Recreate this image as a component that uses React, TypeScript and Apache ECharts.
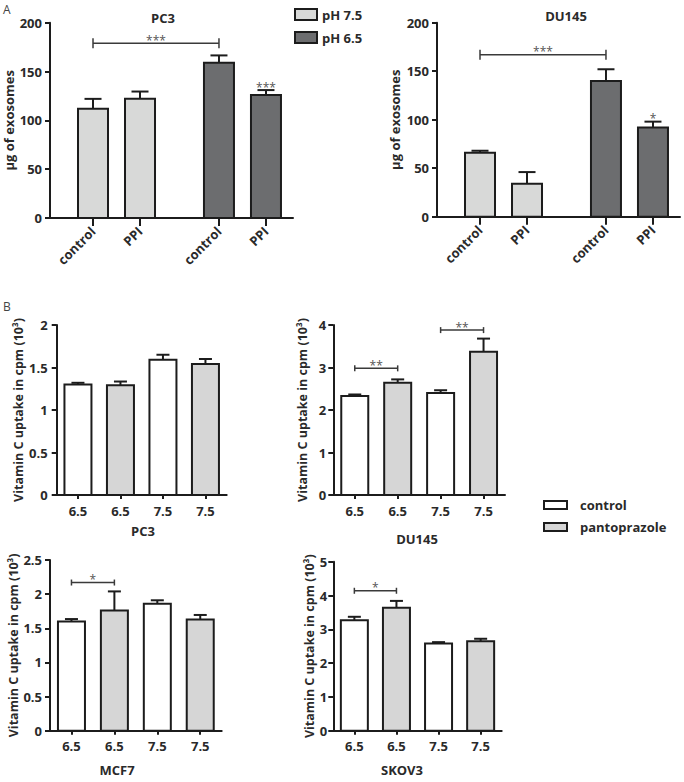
import React, { useEffect, useRef } from "react";
import * as echarts from "echarts";

// ---------- Panel A: exosome release (µg) ----------
const exoCategories = ["control", "PPI", "control", "PPI"];
const exoGroups = ["pH 7.5", "pH 7.5", "pH 6.5", "pH 6.5"];
const exoTicks = [0, 50, 100, 150, 200];
const exoPC3 = [112, 122, 159, 126];
const exoPC3Err = [10, 7.5, 7.5, 5];
const exoPC3Stars = ["", "", "", "***"];
const exoDU145 = [66, 34, 140, 92];
const exoDU145Err = [2, 12, 12, 6];
const exoDU145Stars = ["", "", "", "*"];
// [fromIndex, toIndex, height, label]
const exoPC3Brackets: [number, number, number, string][] = [[0, 2, 179, "***"]];
const exoDU145Brackets: [number, number, number, string][] = [[0, 2, 167, "***"]];

// ---------- Panel B: vitamin C uptake (cpm x10^3) ----------
const phLabels = ["6.5", "6.5", "7.5", "7.5"];
const treatments = ["control", "pantoprazole", "control", "pantoprazole"];
const noStars = ["", "", "", ""];
const vitPC3Ticks = [0, 0.5, 1, 1.5, 2];
const vitPC3 = [1.3, 1.29, 1.59, 1.54];
const vitPC3Err = [0.02, 0.045, 0.06, 0.06];
const vitPC3Brackets: [number, number, number, string][] = [];
const vitDU145Ticks = [0, 1, 2, 3, 4];
const vitDU145 = [2.33, 2.64, 2.4, 3.37];
const vitDU145Err = [0.035, 0.08, 0.065, 0.31];
const vitDU145Brackets: [number, number, number, string][] = [
  [0, 1, 2.98, "**"],
  [2, 3, 3.88, "**"],
];
const vitMCF7Ticks = [0, 0.5, 1, 1.5, 2, 2.5];
const vitMCF7 = [1.6, 1.76, 1.86, 1.63];
const vitMCF7Err = [0.035, 0.28, 0.05, 0.065];
const vitMCF7Brackets: [number, number, number, string][] = [[0, 1, 2.17, "*"]];
const vitSKOV3Ticks = [0, 1, 2, 3, 4, 5];
const vitSKOV3 = [3.27, 3.64, 2.58, 2.65];
const vitSKOV3Err = [0.1, 0.2, 0.04, 0.07];
const vitSKOV3Brackets: [number, number, number, string][] = [[0, 1, 4.14, "*"]];

// ---------- styles ----------
const INK = "#1c1c1c";
const TXT = "#2a2a2a";
const FONT = "'Open Sans', 'DejaVu Sans', sans-serif";
const FILL: Record<string, string> = {
  "pH 7.5": "#d8d9d8",
  "pH 6.5": "#6c6d6f",
  control: "#ffffff",
  pantoprazole: "#d6d6d6",
};
const GROUP_GAP = 0.68;
const exoPos = exoCategories.map((_, i) => i + (exoGroups[i] === exoGroups[0] ? 0 : GROUP_GAP));

function barSeries(
  name: string,
  grid: number,
  xs: number[],
  values: number[],
  errs: number[],
  stars: string[],
  groups: string[],
  w: number,
  cap: number
) {
  const idxs = values.map((_, i) => i).filter((i) => groups[i] === name);
  const fill = FILL[name];
  return {
    type: "custom",
    name,
    xAxisIndex: grid,
    yAxisIndex: grid,
    clip: false,
    silent: true,
    itemStyle: { color: fill, borderColor: INK, borderWidth: 2 },
    encode: { x: 0, y: 1 },
    data: idxs.map((i) => [xs[i], values[i], errs[i]]),
    renderItem: (params: any, api: any) => {
      const i = idxs[params.dataIndex];
      const x = api.value(0);
      const v = api.value(1);
      const e = api.value(2);
      const base = api.coord([x, 0]);
      const top = api.coord([x, v]);
      const et = api.coord([x, v + e]);
      const children: any[] = [
        {
          type: "line",
          shape: { x1: top[0], y1: top[1], x2: top[0], y2: et[1] },
          style: { stroke: INK, lineWidth: 2 },
        },
        {
          type: "line",
          shape: { x1: top[0] - cap / 2, y1: et[1], x2: top[0] + cap / 2, y2: et[1] },
          style: { stroke: INK, lineWidth: 2 },
        },
        {
          type: "rect",
          shape: { x: base[0] - w / 2, y: top[1], width: w, height: base[1] - top[1] },
          style: { fill, stroke: INK, lineWidth: 2 },
        },
      ];
      if (stars[i]) {
        children.push({
          type: "text",
          style: {
            text: stars[i],
            x: top[0],
            y: et[1] - 3,
            align: "center",
            verticalAlign: "middle",
            fill: "#555",
            font: `12px ${FONT}`,
          },
        });
      }
      return { type: "group", children };
    },
  };
}

function bracketSeries(
  grid: number,
  xs: number[],
  brackets: [number, number, number, string][],
  capH: number
) {
  return {
    type: "custom",
    xAxisIndex: grid,
    yAxisIndex: grid,
    clip: false,
    silent: true,
    encode: { x: [0, 1], y: 2 },
    data: brackets.map((b) => [xs[b[0]], xs[b[1]], b[2]]),
    renderItem: (params: any, api: any) => {
      const b = brackets[params.dataIndex];
      const p1 = api.coord([api.value(0), api.value(2)]);
      const p2 = api.coord([api.value(1), api.value(2)]);
      const st = { stroke: "#3a3a3a", lineWidth: 1.5 };
      return {
        type: "group",
        children: [
          { type: "line", shape: { x1: p1[0], y1: p1[1], x2: p2[0], y2: p2[1] }, style: st },
          { type: "line", shape: { x1: p1[0], y1: p1[1] - capH, x2: p1[0], y2: p1[1] + capH }, style: st },
          { type: "line", shape: { x1: p2[0], y1: p2[1] - capH, x2: p2[0], y2: p2[1] + capH }, style: st },
          {
            type: "text",
            style: {
              text: b[3],
              x: (p1[0] + p2[0]) / 2,
              y: p1[1] - 3,
              align: "center",
              verticalAlign: "middle",
              fill: "#555",
              font: `12px ${FONT}`,
            },
          },
        ],
      };
    },
  };
}

const lineStyle = { color: INK, width: 2 };
const tickLabel = { color: TXT, fontFamily: FONT, fontWeight: "bold" as const, fontSize: 13 };

function yAxis(grid: number, ticks: number[], name: string, nameGap: number, margin: number, nameSize: number) {
  return {
    type: "value",
    gridIndex: grid,
    min: ticks[0],
    max: ticks[ticks.length - 1],
    interval: ticks[1] - ticks[0],
    name,
    nameLocation: "middle",
    nameRotate: 90,
    nameGap,
    nameTextStyle: { color: TXT, fontFamily: FONT, fontWeight: "bold", fontSize: nameSize },
    axisLine: { show: true, onZero: false, lineStyle },
    axisTick: { show: true, length: 5, lineStyle },
    axisLabel: { ...tickLabel, margin },
    splitLine: { show: false },
  };
}

function exoXAxis(grid: number) {
  return {
    type: "value",
    gridIndex: grid,
    min: -0.915,
    max: 4.255,
    axisLine: { show: true, onZero: false, lineStyle },
    axisTick: { show: true, customValues: exoPos, length: 8, lineStyle },
    axisLabel: {
      ...tickLabel,
      customValues: exoPos,
      rotate: 45,
      margin: 11,
      formatter: (v: number) => {
        const k = exoPos.findIndex((p) => Math.abs(p - v) < 1e-6);
        return k >= 0 ? exoCategories[k] : "";
      },
    },
    splitLine: { show: false },
  };
}

function vitXAxis(grid: number) {
  return {
    type: "category",
    gridIndex: grid,
    data: phLabels,
    axisLine: { show: true, onZero: false, lineStyle },
    axisTick: { show: true, alignWithLabel: true, length: 4, lineStyle },
    axisLabel: { ...tickLabel, margin: 9 },
    splitLine: { show: false },
  };
}

const idx = [0, 1, 2, 3];
const VIT_NAME = "Vitamin C uptake in cpm (10\u00B3)";
const EXO_NAME = "\u00B5g of exosomes";

function buildOption() {
  const vitSets = [
    { vals: vitPC3, errs: vitPC3Err, br: vitPC3Brackets },
    { vals: vitDU145, errs: vitDU145Err, br: vitDU145Brackets },
    { vals: vitMCF7, errs: vitMCF7Err, br: vitMCF7Brackets },
    { vals: vitSKOV3, errs: vitSKOV3Err, br: vitSKOV3Brackets },
  ];
  const series: any[] = [
    barSeries("pH 7.5", 0, exoPos, exoPC3, exoPC3Err, exoPC3Stars, exoGroups, 30, 17),
    barSeries("pH 6.5", 0, exoPos, exoPC3, exoPC3Err, exoPC3Stars, exoGroups, 30, 17),
    bracketSeries(0, exoPos, exoPC3Brackets, 5),
    barSeries("pH 7.5", 1, exoPos, exoDU145, exoDU145Err, exoDU145Stars, exoGroups, 30, 17),
    barSeries("pH 6.5", 1, exoPos, exoDU145, exoDU145Err, exoDU145Stars, exoGroups, 30, 17),
    bracketSeries(1, exoPos, exoDU145Brackets, 5),
  ];
  vitSets.forEach((s, k) => {
    const g = k + 2;
    series.push(barSeries("control", g, idx, s.vals, s.errs, noStars, treatments, 27, 13));
    series.push(barSeries("pantoprazole", g, idx, s.vals, s.errs, noStars, treatments, 27, 13));
    series.push(bracketSeries(g, idx, s.br, 3));
  });

  const titleText = (text: string, x: number, y: number) => ({
    type: "text",
    x,
    y,
    style: {
      text,
      align: "center",
      verticalAlign: "middle",
      fill: TXT,
      font: `bold 13px ${FONT}`,
    },
  });
  const letter = (text: string, x: number, y: number) => ({
    type: "text",
    x,
    y,
    style: { text, fill: "#444", font: `12px ${FONT}` },
  });

  return {
    animation: false,
    backgroundColor: "#ffffff",
    grid: [
      { left: 50, top: 22.7, width: 243, height: 195.3 },
      { left: 437, top: 22.7, width: 243, height: 194 },
      { left: 56.7, top: 325, width: 170, height: 170 },
      { left: 333.3, top: 325, width: 171.7, height: 170 },
      { left: 50, top: 560, width: 171.7, height: 170.7 },
      { left: 333.3, top: 561.7, width: 168.4, height: 169 },
    ],
    xAxis: [exoXAxis(0), exoXAxis(1), vitXAxis(2), vitXAxis(3), vitXAxis(4), vitXAxis(5)],
    yAxis: [
      yAxis(0, exoTicks, EXO_NAME, 34, 8, 13),
      yAxis(1, exoTicks, EXO_NAME, 36, 8, 13),
      yAxis(2, vitPC3Ticks, VIT_NAME, 31, 9, 12.5),
      yAxis(3, vitDU145Ticks, VIT_NAME, 24, 7, 12.5),
      yAxis(4, vitMCF7Ticks, VIT_NAME, 26, 8, 12.5),
      yAxis(5, vitSKOV3Ticks, VIT_NAME, 17, 6, 12.5),
    ],
    legend: [
      {
        orient: "vertical",
        left: 294,
        top: 6.5,
        padding: 0,
        itemWidth: 22,
        itemHeight: 11,
        itemGap: 7,
        selectedMode: false,
        textStyle: { color: TXT, fontFamily: FONT, fontWeight: "bold", fontSize: 13, lineHeight: 16 },
        data: ["pH 7.5", "pH 6.5"].map((n) => ({
          name: n,
          icon: "rect",
          itemStyle: { color: FILL[n], borderColor: INK, borderWidth: 2 },
        })),
      },
      {
        orient: "vertical",
        left: 543,
        top: 497,
        padding: 0,
        itemWidth: 23,
        itemHeight: 8,
        itemGap: 6,
        selectedMode: false,
        textStyle: { color: TXT, fontFamily: FONT, fontWeight: "bold", fontSize: 13, lineHeight: 16, padding: [0, 0, 0, 8] },
        data: ["control", "pantoprazole"].map((n) => ({
          name: n,
          icon: "rect",
          itemStyle: { color: FILL[n], borderColor: INK, borderWidth: 2 },
        })),
      },
    ],
    graphic: [
      letter("A", 3, 3),
      letter("B", 3, 300),
      titleText("PC3", 163, 18),
      titleText("DU145", 566, 16),
      titleText("PC3", 143, 531),
      titleText("DU145", 417, 539),
      titleText("MCF7", 117, 770),
      titleText("SKOV3", 402, 770),
    ],
    series,
  };
}

export default function App() {
  const ref = useRef<HTMLDivElement>(null);
  useEffect(() => {
    if (!ref.current) return;
    const chart = echarts.init(ref.current, undefined, { renderer: "svg" });
    chart.setOption(buildOption() as any);
    return () => chart.dispose();
  }, []);
  return (
    <div
      ref={ref}
      style={{ position: "absolute", left: 0, top: 0, width: 684, height: 782, background: "#fff" }}
    />
  );
}
